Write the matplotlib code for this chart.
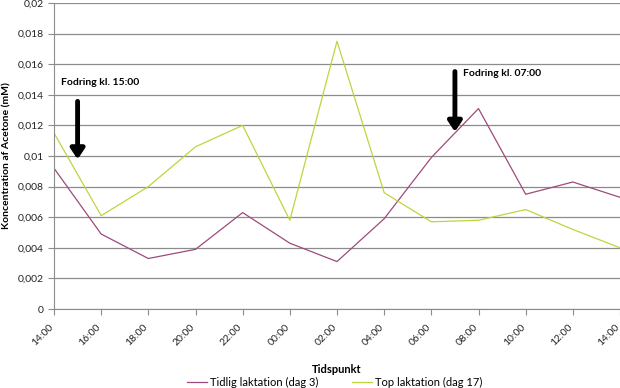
import matplotlib
matplotlib.use('Agg')
import matplotlib.pyplot as plt
import matplotlib.transforms as mtransforms
from matplotlib.lines import Line2D

plt.rcParams['font.family'] = ['Lato', 'DejaVu Sans']

# Tidspunkt (hours, continuing past midnight)
hours = [14, 16, 18, 20, 22, 24, 26, 28, 30, 32, 34, 36, 38]
tick_labels = ['14:00', '16:00', '18:00', '20:00', '22:00', '00:00', '02:00',
               '04:00', '06:00', '08:00', '10:00', '12:00', '14:00']

# Koncentration af Acetone (mM)
tidlig = [0.0092, 0.0049, 0.0033, 0.0039, 0.0063, 0.0043, 0.0031,
          0.0059, 0.0099, 0.0131, 0.0075, 0.0083, 0.0073]
top = [0.0115, 0.0061, 0.0080, 0.0106, 0.0120, 0.0058, 0.0175,
       0.0076, 0.0057, 0.0058, 0.0065, 0.0052, 0.0040]

y_ticks = [0, 0.002, 0.004, 0.006, 0.008, 0.01, 0.012, 0.014, 0.016, 0.018, 0.02]

purple = '#9C4B7C'
green = '#BCD63E'
grid_col = '#8C8C8C'

fig = plt.figure(figsize=(6.2, 3.88), dpi=100)
ax = fig.add_axes([0.0871, 0.2036, 0.9129, 0.7887])

ax.plot(hours, tidlig, color=purple, lw=0.9)
ax.plot(hours, top, color=green, lw=0.9)

ax.set_xlim(14, 38)
ax.set_ylim(0, 0.02)
ax.set_xticks(hours)
ax.set_xticklabels(tick_labels, rotation=45, ha='right', rotation_mode='anchor', fontsize=7.5)
ax.set_yticks(y_ticks)
ax.set_yticklabels(['0' if v == 0 else ('%g' % v).replace('.', ',') for v in y_ticks], fontsize=7.5)

ax.yaxis.grid(True, color=grid_col, lw=0.9)
ax.set_axisbelow(True)
for side in ['top', 'right']:
    ax.spines[side].set_visible(False)
for side in ['left', 'bottom']:
    ax.spines[side].set_color(grid_col)
ax.tick_params(colors=grid_col, labelcolor='#222222', length=4, width=0.8)

# nudge the slanted labels a little left/down like the original
shift = mtransforms.ScaledTranslation(-5 / 100, -3 / 100, fig.dpi_scale_trans)
for t in ax.xaxis.get_major_ticks():
    t.label1.set_transform(t.label1.get_transform() + shift)

ax.set_xlabel('Tidspunkt', fontsize=8, fontweight='bold', labelpad=12)
ax.set_ylabel('Koncentration af Acetone (mM)', fontsize=7.5, fontweight='bold', labelpad=4)

# feeding annotations
ax.annotate('', xy=(15, 0.0096), xytext=(15, 0.01375),
            arrowprops=dict(arrowstyle='-|>,head_width=0.4,head_length=0.6', color='black', lw=3.5))
ax.text(14.3, 0.0148, 'Fodring kl. 15:00', fontsize=7.5, fontweight='bold', ha='left', va='center')
ax.annotate('', xy=(31, 0.0114), xytext=(31, 0.0157),
            arrowprops=dict(arrowstyle='-|>,head_width=0.4,head_length=0.6', color='black', lw=3.5))
ax.text(31.35, 0.0154, 'Fodring kl. 07:00', fontsize=7.5, fontweight='bold', ha='left', va='center')

handles = [Line2D([], [], color=purple, lw=0.9), Line2D([], [], color=green, lw=0.9)]
fig.legend(handles, ['Tidlig laktation (dag 3)', 'Top laktation (dag 17)'],
           loc='lower center', bbox_to_anchor=(0.54, -0.025), ncol=2, frameon=False,
           fontsize=8, handlelength=1.8, handletextpad=0.3, columnspacing=3.0)

fig.savefig('out.png', dpi=100)
